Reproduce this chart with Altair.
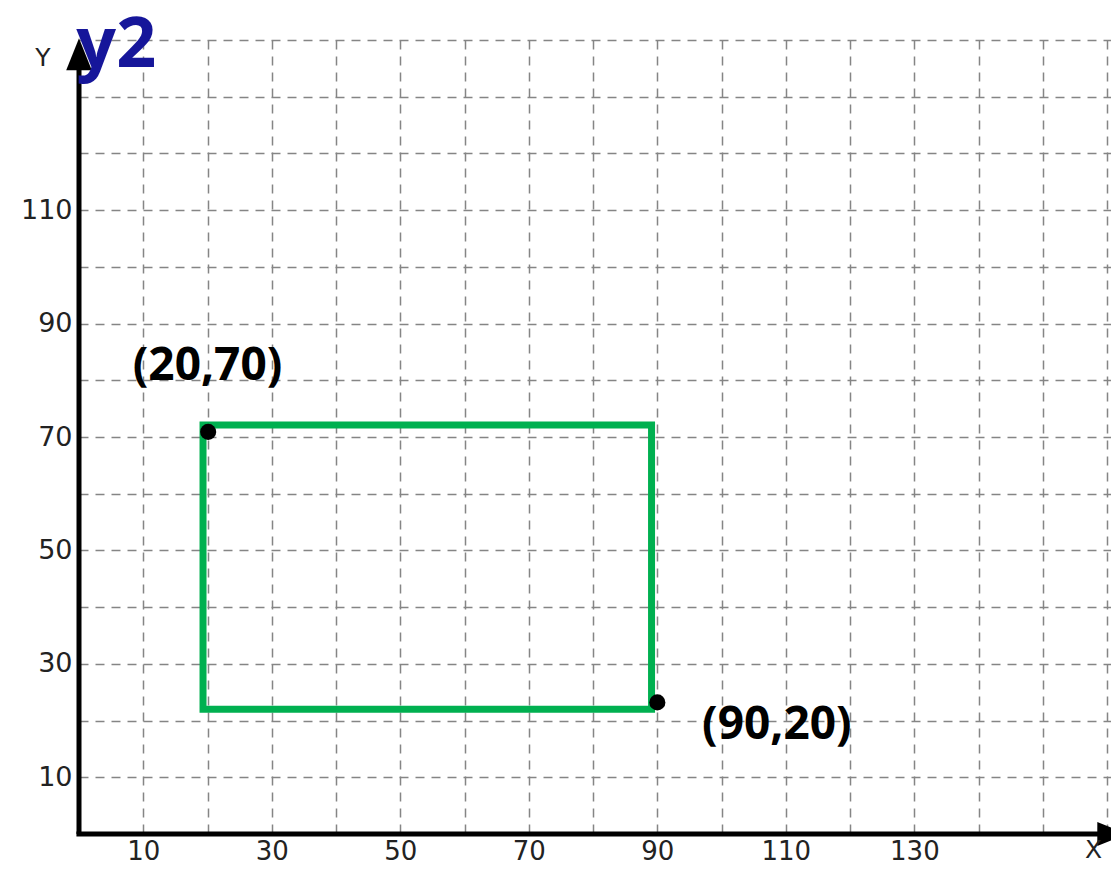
import altair as alt
import pandas as pd

# ---- data ----
x_grid = list(range(10, 161, 10))
y_grid = list(range(10, 141, 10))

rect_x1 = [19.3]
rect_x2 = [89.1]
rect_y1 = [72.1]
rect_y2 = [22.0]

point_x = [20.1, 90.0]
point_y = [70.9, 23.2]

label_text = ["(20,70)", "(90,20)"]
label_x = [20.0, 108.6]
label_y = [82.6, 19.2]

axis_letters = ["Y", "X"]
letter_x = [-5.6, 157.9]
letter_y = [136.8, -2.9]

title_text = ["y2"]
title_x = [5.8]
title_y = [135.2]

# ---- scales / axes ----
xs = alt.Scale(domain=[0, 160.6], nice=False, zero=False)
ys = alt.Scale(domain=[0, 140], nice=False, zero=False)

xaxis = alt.Axis(values=x_grid, grid=True, gridDash=[9, 7], gridColor="#858585",
                 gridWidth=1.5, domain=False, ticks=False, title=None,
                 labelExpr="datum.value % 20 == 10 && datum.value <= 130 ? datum.label : ''",
                 labelFont="DejaVu Sans", labelFontSize=26, labelColor="#222222",
                 labelPadding=4)
yaxis = alt.Axis(values=y_grid, grid=True, gridDash=[9, 7], gridColor="#858585",
                 gridWidth=1.5, domain=False, ticks=False, title=None,
                 labelExpr="datum.value % 20 == 10 && datum.value <= 110 ? datum.label : ''",
                 labelFont="DejaVu Sans", labelFontSize=27, labelColor="#222222",
                 labelPadding=7)


def X(f):
    return alt.X(f, type="quantitative", scale=xs, axis=xaxis)


def Y(f):
    return alt.Y(f, type="quantitative", scale=ys, axis=yaxis)


rect_df = pd.DataFrame({"x1": rect_x1, "x2": rect_x2, "y1": rect_y1, "y2": rect_y2})
pts_df = pd.DataFrame({"x": point_x, "y": point_y})
lab_df = pd.DataFrame({"x": label_x, "y": label_y, "t": label_text})
let_df = pd.DataFrame({"x": letter_x, "y": letter_y, "t": axis_letters})
tit_df = pd.DataFrame({"x": title_x, "y": title_y, "t": title_text})
yaxis_df = pd.DataFrame({"x": [0.0], "y1": [0.0], "y2": [135.0]})
xaxis_df = pd.DataFrame({"x1": [-0.4], "x2": [159.5], "y": [0.0]})
yarrow_df = pd.DataFrame({"x": [0.0], "y": [137.5]})
xarrow_df = pd.DataFrame({"x": [160.8], "y": [0.0]})

grid_layer = alt.Chart(pts_df).mark_point(opacity=0).encode(x=X("x"), y=Y("y"))

rect_layer = alt.Chart(rect_df).mark_rect(fillOpacity=0, stroke="#00B050", strokeWidth=7).encode(
    x=X("x1"), x2="x2", y=Y("y1"), y2="y2")

y_line = alt.Chart(yaxis_df).mark_rule(color="black", strokeWidth=5).encode(
    x=X("x"), y=Y("y1"), y2="y2")
x_line = alt.Chart(xaxis_df).mark_rule(color="black", strokeWidth=5).encode(
    x=X("x1"), x2="x2", y=Y("y"))

y_arrow = alt.Chart(yarrow_df).mark_point(shape="M0,-1L-0.8,1L0.8,1Z", filled=True,
                                          color="black", size=1024, opacity=1).encode(x=X("x"), y=Y("y"))
x_arrow = alt.Chart(xarrow_df).mark_point(shape="M1,0L-1,-0.8L-1,0.8Z", filled=True,
                                          color="black", size=900, opacity=1).encode(x=X("x"), y=Y("y"))

dots = alt.Chart(pts_df).mark_circle(color="black", size=260, opacity=1).encode(x=X("x"), y=Y("y"))

labels = alt.Chart(lab_df).mark_text(font="Open Sans", fontWeight="bold", fontSize=46,
                                     color="black", align="center", baseline="middle").encode(
    x=X("x"), y=Y("y"), text="t")

letters = alt.Chart(let_df).mark_text(font="DejaVu Sans", fontSize=25, color="#222222",
                                      align="center", baseline="middle").encode(
    x=X("x"), y=Y("y"), text="t")

title = alt.Chart(tit_df).mark_text(font="Open Sans", fontWeight="bold", fontSize=70,
                                    color="#16169A", align="center", baseline="alphabetic").encode(
    x=X("x"), y=Y("y"), text="t")

chart = alt.layer(grid_layer, rect_layer, y_line, x_line, y_arrow, x_arrow, dots,
                  labels, letters, title).properties(
    width=1032, height=794,
    padding={"left": 71, "top": 32, "right": 0, "bottom": 30},
    autosize=alt.AutoSizeParams(type="none"),
    background="white",
).configure_view(stroke=None)

chart.save("out.html", embed_options={"renderer": "svg", "actions": False})
